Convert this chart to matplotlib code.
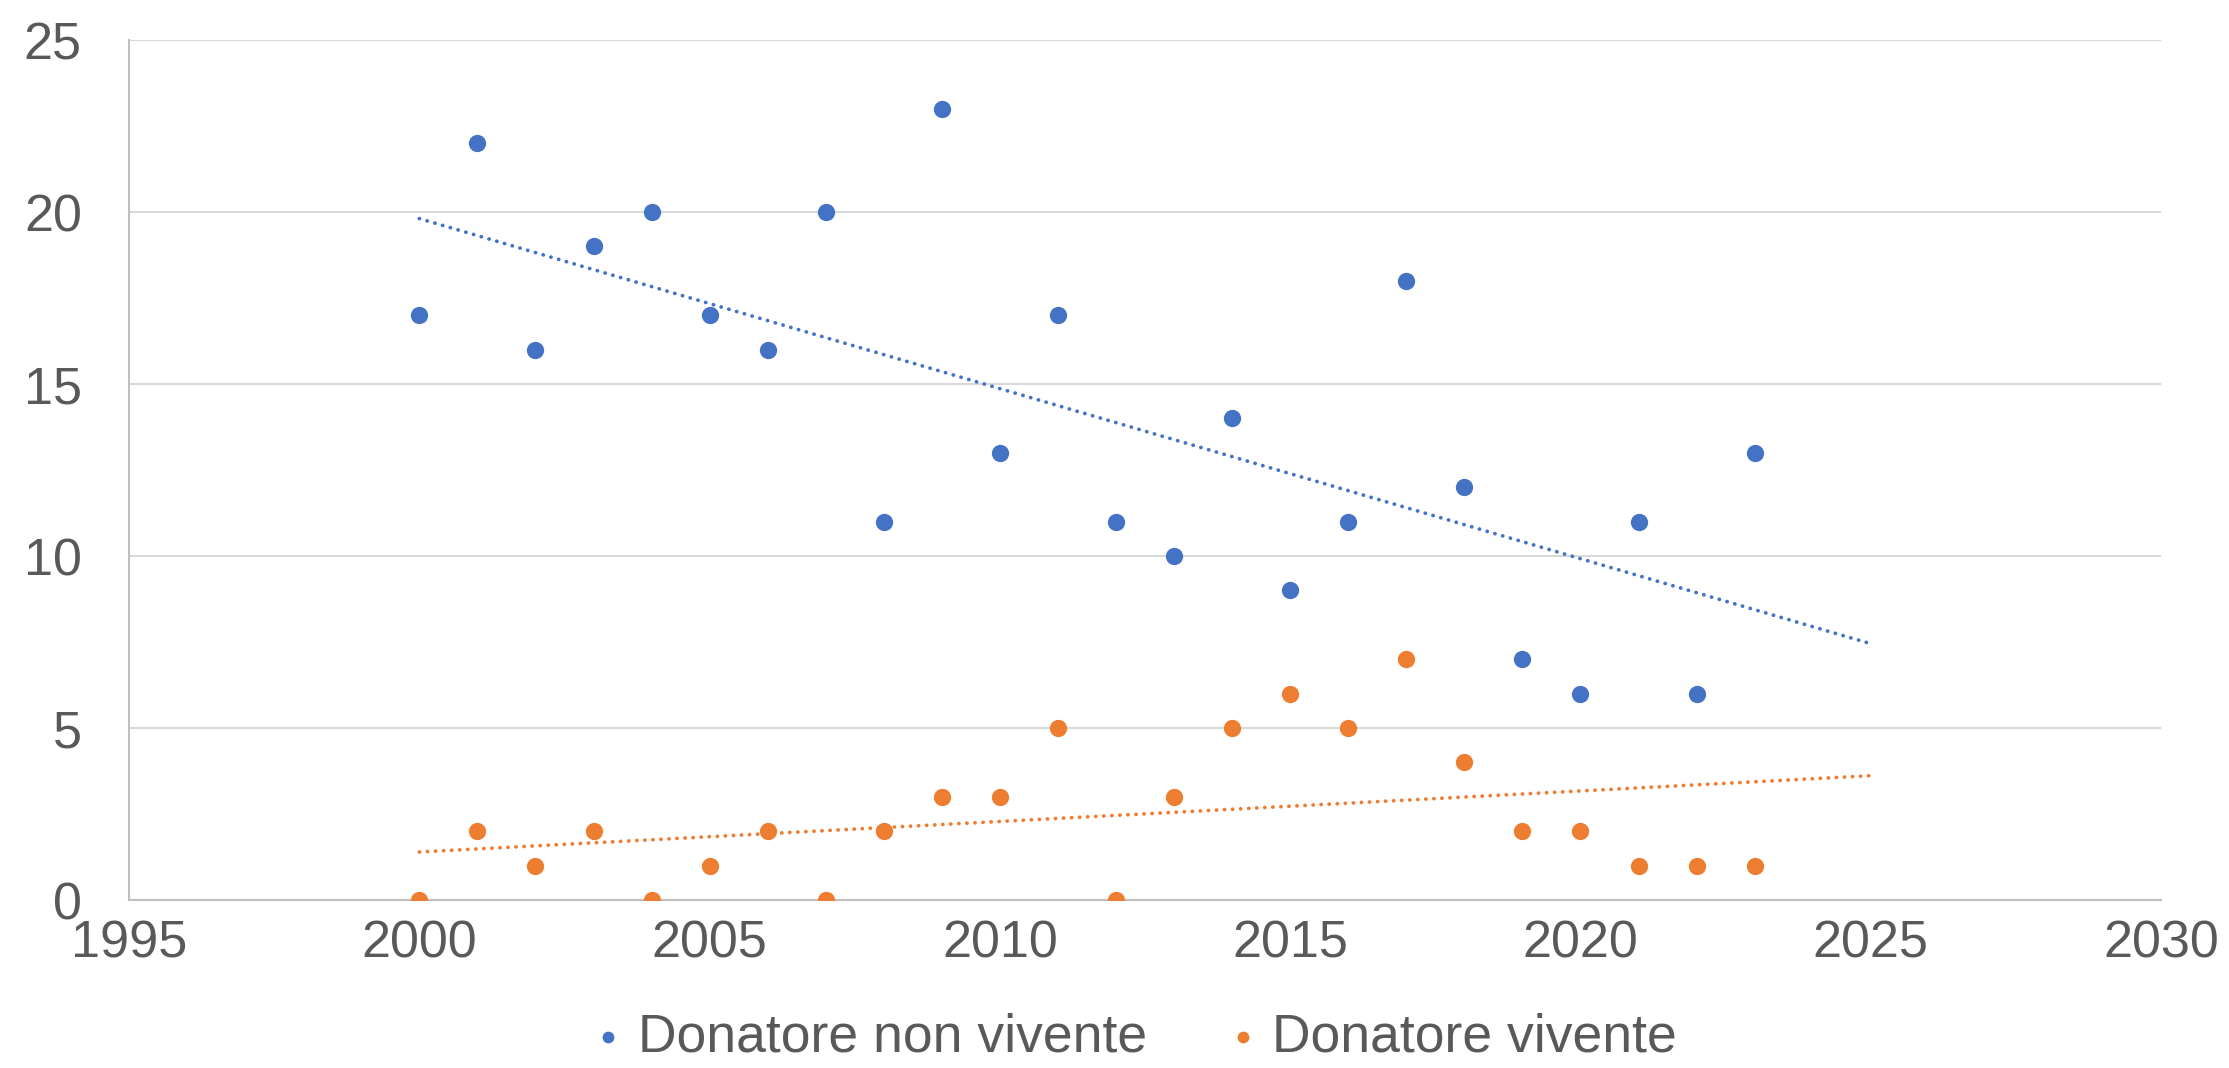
import numpy as np
import matplotlib
matplotlib.use("Agg")
import matplotlib.pyplot as plt

# === Data ===
anni = [2000, 2001, 2002, 2003, 2004, 2005, 2006, 2007, 2008, 2009, 2010, 2011,
        2012, 2013, 2014, 2015, 2016, 2017, 2018, 2019, 2020, 2021, 2022, 2023]
non_vivente = [17, 22, 16, 19, 20, 17, 16, 20, 11, 23, 13, 17,
               11, 10, 14, 9, 11, 18, 12, 7, 6, 11, 6, 13]
vivente = [0, 2, 1, 2, 0, 1, 2, 0, 2, 3, 3, 5,
           0, 3, 5, 6, 5, 7, 4, 2, 2, 1, 1, 1]
etichette = ["Donatore non vivente", "Donatore vivente"]
x_ticks = [1995, 2000, 2005, 2010, 2015, 2020, 2025, 2030]
y_ticks = [0, 5, 10, 15, 20, 25]

BLUE = "#4472C4"
ORANGE = "#ED7D31"
TEXT = "#595959"

plt.rcParams["font.family"] = ["Liberation Sans", "DejaVu Sans"]

fig = plt.figure(figsize=(22.29, 10.68), dpi=100)
ax = fig.add_axes([0.0579, 0.1573, 0.9116, 0.8052])

# === Scatter + linear trend (forecast to 2025) ===
x = np.array(anni)
x_trend = np.array([anni[0], 2025])
for serie, col, lab in [(non_vivente, BLUE, etichette[0]), (vivente, ORANGE, etichette[1])]:
    ax.scatter(x, serie, s=155, color=col, label=lab, zorder=3, linewidths=0)
    m, q = np.polyfit(x, serie, 1)
    ax.plot(x_trend, m * x_trend + q, color=col, lw=2.7,
            dashes=(0.05, 2.1), dash_capstyle="round", zorder=2)

# === Axes style ===
ax.set_xlim(1995, 2030)
ax.set_ylim(0, 25)
ax.set_xticks(x_ticks)
ax.set_yticks(y_ticks)
ax.grid(axis="y", color="#d9d9d9", lw=1.5)
ax.set_axisbelow(True)
for s in ["top", "right"]:
    ax.spines[s].set_visible(False)
for s in ["left", "bottom"]:
    ax.spines[s].set_color("#bfbfbf")
    ax.spines[s].set_linewidth(1.5)
ax.tick_params(axis="both", length=0, labelsize=37.5, labelcolor=TEXT)
ax.tick_params(axis="y", pad=34)
ax.tick_params(axis="x", pad=14)

fig.legend(loc="center", bbox_to_anchor=(0.509, 0.029), ncol=2, frameon=False,
           fontsize=38.5, labelcolor=TEXT, markerscale=0.68, borderpad=0,
           borderaxespad=0, handletextpad=0.25, columnspacing=1.5, handlelength=0.6)

fig.savefig("out.png", dpi=100)
